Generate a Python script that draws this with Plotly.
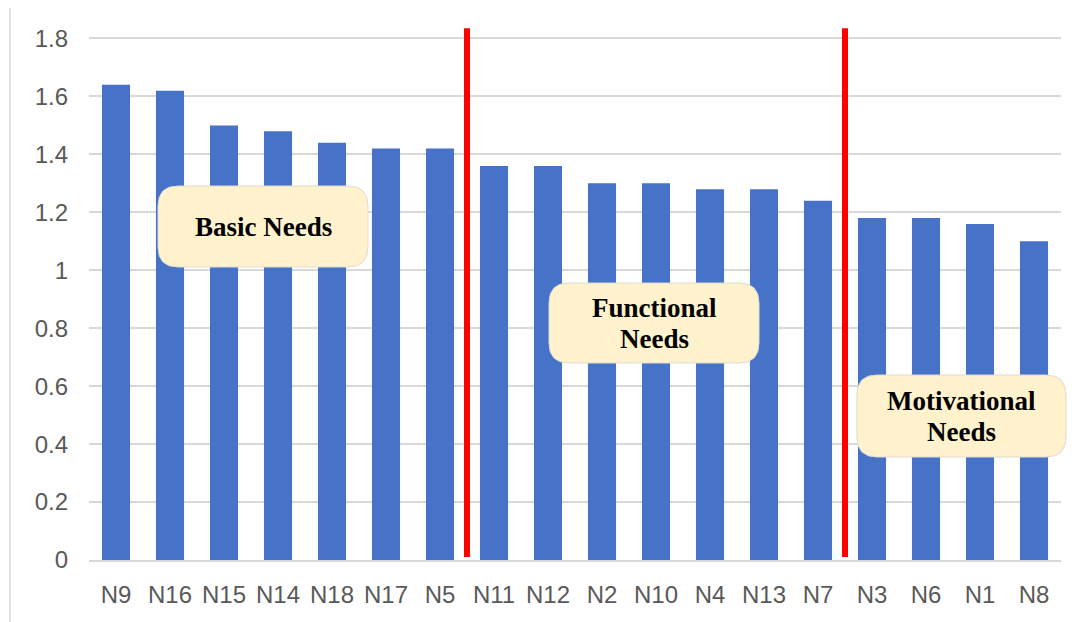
import plotly.graph_objects as go

categories = ["N9", "N16", "N15", "N14", "N18", "N17", "N5",
              "N11", "N12", "N2", "N10", "N4", "N13", "N7",
              "N3", "N6", "N1", "N8"]
values = [1.64, 1.62, 1.50, 1.48, 1.44, 1.42, 1.42,
          1.36, 1.36, 1.30, 1.30, 1.28, 1.28, 1.24,
          1.18, 1.18, 1.16, 1.10]
group_labels = [["Basic Needs"], ["Functional", "Needs"], ["Motivational", "Needs"]]
group_sizes = [7, 7, 4]
y_ticks = [0, 0.2, 0.4, 0.6, 0.8, 1, 1.2, 1.4, 1.6, 1.8]
y_tick_text = ["0", "0.2", "0.4", "0.6", "0.8", "1", "1.2", "1.4", "1.6", "1.8"]

OFF = 8  # page body margin
W, H = 1083 - OFF, 622 - OFF
L, R, T, B = 89 - OFF, 22, 24 - OFF, 62
PW, PH = W - L - R, H - T - B


def px_x(px):
    return (px - OFF - L) / PW


def px_y(py):
    return (H - B - (py - OFF)) / PH


def rounded_rect(x0, y0, x1, y1, r):
    X = px_x
    Y = px_y
    return (f"M {X(x0 + r)},{Y(y0)} L {X(x1 - r)},{Y(y0)} "
            f"Q {X(x1)},{Y(y0)} {X(x1)},{Y(y0 + r)} "
            f"L {X(x1)},{Y(y1 - r)} Q {X(x1)},{Y(y1)} {X(x1 - r)},{Y(y1)} "
            f"L {X(x0 + r)},{Y(y1)} Q {X(x0)},{Y(y1)} {X(x0)},{Y(y1 - r)} "
            f"L {X(x0)},{Y(y0 + r)} Q {X(x0)},{Y(y0)} {X(x0 + r)},{Y(y0)} Z")


fig = go.Figure()
fig.add_trace(go.Bar(
    x=categories, y=values,
    marker=dict(color="#4672c8", line=dict(width=0)),
    hoverinfo="x+y",
))

shapes = []
shapes.append(dict(type="rect", xref="paper", yref="paper",
                   x0=px_x(10), x1=px_x(1095), y0=px_y(640), y1=px_y(7),
                   line=dict(color="#d9d9d9", width=1.5), fillcolor="rgba(0,0,0,0)",
                   layer="below"))

pos = 0
for s in group_sizes[:-1]:
    pos += s
    shapes.append(dict(type="line", xref="x", yref="y",
                       x0=pos - 0.5, x1=pos - 0.5, y0=0.01, y1=1.835,
                       line=dict(color="#ff0000", width=6)))

boxes = [(158, 186, 368, 267), (549, 283, 759, 363), (857, 375, 1066, 457)]
annotations = []
LINE = 31
for (x0, y0, x1, y1), lines in zip(boxes, group_labels):
    shapes.append(dict(type="path", xref="paper", yref="paper",
                       path=rounded_rect(x0, y0, x1, y1, 20),
                       fillcolor="#fff2cc", line=dict(color="#dedbd0", width=1)))
    cy = (y0 + y1) / 2
    n = len(lines)
    for i, txt in enumerate(lines):
        ly = cy + (i - (n - 1) / 2) * LINE
        annotations.append(dict(xref="paper", yref="paper",
                                x=px_x((x0 + x1) / 2), y=px_y(ly),
                                text=f"<b>{txt}</b>", showarrow=False,
                                font=dict(family="Liberation Serif, Times New Roman, serif",
                                          size=27, color="#000000"),
                                xanchor="center", yanchor="middle"))

fig.update_layout(
    width=W, height=H,
    margin=dict(l=L, r=R, t=T, b=B),
    paper_bgcolor="white", plot_bgcolor="white",
    bargap=0.48,
    showlegend=False,
    shapes=shapes,
    annotations=annotations,
    font=dict(family="Liberation Sans, Arial, sans-serif", size=24, color="#595959"),
)
fig.update_yaxes(range=[0, 1.85], tickvals=y_ticks, ticktext=y_tick_text,
                 showgrid=True, gridcolor="#d9d9d9", gridwidth=1.5,
                 zeroline=False, showline=False, ticks="",
                 ticklabelstandoff=20,
                 tickfont=dict(size=24, color="#595959"))
fig.update_xaxes(showline=True, linecolor="#d9d9d9", linewidth=2,
                 showgrid=False, ticks="", ticklabelstandoff=12,
                 tickfont=dict(size=24, color="#595959"))

fig.write_html("out.html")
